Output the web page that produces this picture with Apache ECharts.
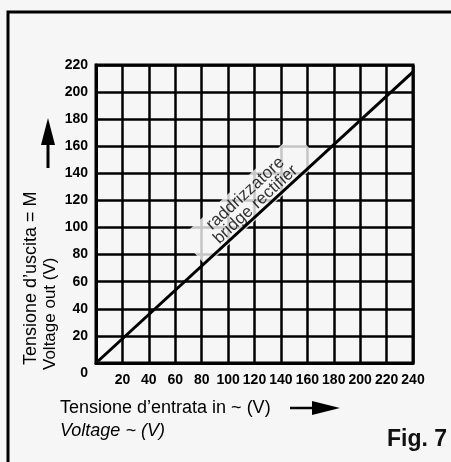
<!DOCTYPE html>
<html>
<head>
<meta charset="utf-8">
<script src="https://cdn.jsdelivr.net/npm/echarts@6/dist/echarts.min.js"></script>
<style>
html,body{margin:0;padding:0;background:#f6f6f6;}
#c{width:451px;height:462px;}
</style>
</head>
<body>
<div id="c"></div>
<script>
// ---- data ----
const inputVoltage = [0, 240];        // Tensione d'entrata (V)
const outputVoltage = [0, 215];       // Tensione d'uscita (V) - bridge rectifier
const xTicks = [0, 20, 40, 60, 80, 100, 120, 140, 160, 180, 200, 220, 240];
const yTicks = [0, 20, 40, 60, 80, 100, 120, 140, 160, 180, 200, 220];
const curveLabel = ['raddrizzatore', 'bridge rectifier'];
const xTitle = 'Tensione d’entrata in ~ (V)';
const xTitle2 = 'Voltage ~ (V)';
const yTitle = 'Tensione d’uscita = M';
const yTitle2 = 'Voltage out (V)';
const figLabel = 'Fig. 7';

const FONT = "'Liberation Sans', Arial, Helvetica, sans-serif";
const chart = echarts.init(document.getElementById('c'), null, {renderer: 'canvas'});

const lineData = inputVoltage.map((x, i) => [x, outputVoltage[i]]);

chart.setOption({
  backgroundColor: '#f6f6f6',
  animation: false,
  grid: {left: 96, right: 38, top: 65, bottom: 99, show: true, borderColor: '#000', borderWidth: 3},
  xAxis: {
    type: 'value', min: xTicks[0], max: xTicks[xTicks.length - 1], interval: xTicks[1] - xTicks[0],
    axisLine: {show: true, lineStyle: {color: '#000', width: 3}},
    axisTick: {show: false},
    splitLine: {show: true, lineStyle: {color: '#000', width: 2.5}},
    axisLabel: {showMinLabel: false, color: '#000', fontFamily: FONT, fontSize: 14, fontWeight: 'bold', margin: 10}
  },
  yAxis: {
    type: 'value', min: yTicks[0], max: yTicks[yTicks.length - 1], interval: yTicks[1] - yTicks[0],
    axisLine: {show: true, lineStyle: {color: '#000', width: 3}},
    axisTick: {show: false},
    splitLine: {show: true, lineStyle: {color: '#000', width: 2.5}},
    axisLabel: {
      color: '#000', fontFamily: FONT, fontSize: 14, fontWeight: 'bold', margin: 8,
      formatter: v => v === 0 ? '{z|0}' : String(v),
      rich: {z: {padding: [20, 0, 0, 0], fontFamily: FONT, fontSize: 14, fontWeight: 'bold', color: '#000'}}
    }
  },
  series: [
    {
      type: 'scatter', z: 1,
      data: [[117, 121]],
      symbolSize: 1,
      itemStyle: {color: 'rgba(0,0,0,0)'},
      silent: true,
      label: {
        show: true, position: 'inside', rotate: 42.6,
        formatter: curveLabel.join('\n'),
        align: 'center', verticalAlign: 'middle',
        fontFamily: FONT, fontSize: 17, lineHeight: 15, color: '#000',
        backgroundColor: '#f6f6f6', padding: [4, 24, 4, 24]
      }
    },
    {
      type: 'line', z: 3,
      data: lineData,
      showSymbol: false, symbol: 'none',
      lineStyle: {color: '#000', width: 3}
    }
  ],
  graphic: [
    {type: 'rect', shape: {x: 8, y: 12, width: 470, height: 480}, style: {fill: null, stroke: '#000', lineWidth: 3}, silent: true},
    // up arrow
    {type: 'line', shape: {x1: 48, y1: 168, x2: 48, y2: 138}, style: {stroke: '#000', lineWidth: 3}},
    {type: 'polygon', shape: {points: [[48, 118], [41, 145], [55, 145]]}, style: {fill: '#000'}},
    // right arrow
    {type: 'line', shape: {x1: 290, y1: 408, x2: 318, y2: 408}, style: {stroke: '#000', lineWidth: 2.5}},
    {type: 'polygon', shape: {points: [[340, 408], [312, 401], [312, 415]]}, style: {fill: '#000'}},
    // titles
    {type: 'text', x: 60, y: 408, style: {text: xTitle, fontFamily: FONT, fontSize: 18, fill: '#000', align: 'left', verticalAlign: 'middle'}},
    {type: 'text', x: 60, y: 431, style: {text: xTitle2, fontFamily: FONT, fontSize: 18, fontStyle: 'italic', fill: '#000', align: 'left', verticalAlign: 'middle'}},
    {type: 'text', x: 31, y: 365, rotation: Math.PI / 2, style: {text: yTitle, fontFamily: FONT, fontSize: 18, fill: '#000', align: 'left', verticalAlign: 'middle'}},
    {type: 'text', x: 50, y: 370, rotation: Math.PI / 2, style: {text: yTitle2, fontFamily: FONT, fontSize: 17, fill: '#000', align: 'left', verticalAlign: 'middle'}},
    {type: 'text', x: 387, y: 440, style: {text: figLabel, fontFamily: FONT, fontSize: 23, fontWeight: 'bold', fill: '#111', align: 'left', verticalAlign: 'middle'}}
  ]
});
</script>
</body>
</html>
